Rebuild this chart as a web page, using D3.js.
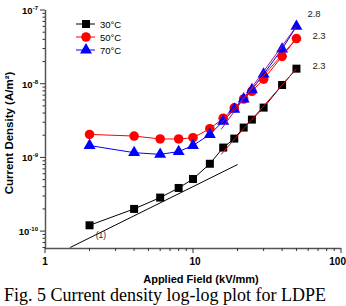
<!DOCTYPE html>
<html><head><meta charset="utf-8">
<script src="https://cdn.jsdelivr.net/npm/d3@7"></script>
<style>
body{margin:0;background:#fff;}
svg{display:block;}
.sans{font-family:Arial,"Liberation Sans",sans-serif;}
.serif{font-family:"Liberation Serif","DejaVu Serif",serif;}
</style></head>
<body>
<svg id="c" width="346" height="306"></svg>
<script>
// ---- data ----
const fields = [2, 4, 6, 8, 10, 13, 16, 19, 22, 25, 30, 40, 50];
const j30 = [1.2e-10, 2.0e-10, 2.85e-10, 3.85e-10, 5.1e-10, 8.2e-10, 1.36e-9, 1.8e-9, 2.54e-9, 3.26e-9, 4.74e-9, 9.6e-9, 1.6e-8];
const j50 = [2.05e-9, 1.95e-9, 1.78e-9, 1.78e-9, 1.85e-9, 2.45e-9, 3.4e-9, 4.7e-9, 6.2e-9, 7.9e-9, 1.15e-8, 2.35e-8, 4.1e-8];
const j70 = [1.45e-9, 1.16e-9, 1.1e-9, 1.2e-9, 1.45e-9, 2.05e-9, 3.1e-9, 4.5e-9, 6.2e-9, 8.3e-9, 1.35e-8, 2.95e-8, 6.0e-8];
const seriesNames = ["30°C", "50°C", "70°C"];
const fitX = [15.5, 50];
const fit30 = [1.1e-9, 1.6e-8];
const fit50 = [2.9e-9, 4.1e-8];
const fit70 = [2.4e-9, 6.0e-8];
const slopeLabels = ["2.3", "2.3", "2.8"];
const refX = [1.48, 20];
const refY = [6.0e-11, 8.0e-10];
const refLabel = "(1)";
const xTickLabels = ["1", "10", "100"];
const yTickExps = ["-7", "-8", "-9", "-10"];

// ---- layout ----
const svg = d3.select("#c");
const x = d3.scaleLog().domain([1, 100]).range([45, 341]);
const y = d3.scaleLog().domain([Math.pow(10, -10.229), 1e-7]).range([248, 10]);

// axes
const xMajor = [1, 10, 100];
const xMinor = [];
for (const d of [1, 10]) for (let k = 2; k <= 9; k++) xMinor.push(d * k);
const yMajor = [1e-7, 1e-8, 1e-9, 1e-10];
const yMinor = [];
for (const d of [1e-11, 1e-10, 1e-9, 1e-8]) for (let k = 2; k <= 9; k++) {
  const v = d * k; if (v >= y.domain()[0] && v <= 1e-7) yMinor.push(v);
}
const ax = svg.append("g").attr("stroke", "#333").attr("stroke-width", 1);
ax.append("line").attr("x1", x(1)).attr("x2", x(100)).attr("y1", 248.5).attr("y2", 248.5).attr("stroke","#555").attr("stroke-width",1.5);
ax.append("line").attr("x1", 45.5).attr("x2", 45.5).attr("y1", y(1e-7)).attr("y2", 248.5).attr("stroke","#555").attr("stroke-width",1.5);
xMajor.forEach(v => ax.append("line").attr("x1", x(v)).attr("x2", x(v)).attr("y1", 248).attr("y2", 253));
xMinor.forEach(v => ax.append("line").attr("x1", x(v)).attr("x2", x(v)).attr("y1", 248).attr("y2", 251));
yMajor.forEach(v => ax.append("line").attr("x1", 40).attr("x2", 45).attr("y1", y(v)).attr("y2", y(v)));
yMinor.forEach(v => ax.append("line").attr("x1", 42.5).attr("x2", 45).attr("y1", y(v)).attr("y2", y(v)));

xMajor.forEach((v, i) => svg.append("text").attr("class", "sans")
  .attr("x", i === 2 ? 346 : x(v) + (i === 1 ? 2 : 0)).attr("y", 265)
  .attr("text-anchor", i === 2 ? "end" : "middle").attr("font-size", 10).attr("font-weight", "bold").text(xTickLabels[i]));
yMajor.forEach((v, i) => {
  const t = svg.append("text").attr("class", "sans").attr("x", 38).attr("y", y(v) + 4).attr("text-anchor", "end")
    .attr("font-size", 9.5).attr("font-weight", "bold");
  t.append("tspan").text("10");
  t.append("tspan").attr("dy", -4).attr("font-size", 6).text(yTickExps[i]);
});

svg.append("text").attr("class", "sans").attr("x", 201).attr("y", 283).attr("text-anchor", "middle")
  .attr("font-size", 11).attr("font-weight", "bold").text("Applied Field (kV/mm)");
svg.append("text").attr("class", "sans").attr("transform", "translate(13,133) rotate(-90)").attr("text-anchor", "middle")
  .attr("font-size", 11.5).attr("font-weight", "bold").text("Current Density (A/m\u00B2)");

// reference line slope 1
svg.append("line").attr("x1", x(refX[0])).attr("y1", y(refY[0])).attr("x2", x(refX[1])).attr("y2", y(refY[1]))
  .attr("stroke", "#000").attr("stroke-width", 1);
svg.append("text").attr("class", "sans").attr("x", x(2.2)).attr("y", 238).attr("font-size", 8.5).attr("fill", "#222").text(refLabel);

const colors = ["#000000", "#ff0000", "#0000ff"];
const data = [j30, j50, j70];
const line = d3.line().x(d => x(d[0])).y(d => y(d[1]));

// series lines
data.forEach((arr, i) => {
  svg.append("path").datum(fields.map((f, k) => [f, arr[k]])).attr("d", line)
    .attr("fill", "none").attr("stroke", colors[i]).attr("stroke-width", 1);
});

// markers
const sq = d3.symbol().type(d3.symbolSquare).size(64);
const ci = d3.symbol().type(d3.symbolCircle).size(72);
const tr = d3.symbol().type(d3.symbolTriangle).size(62);
const syms = [sq, ci, tr];
data.forEach((arr, i) => {
  svg.append("g").selectAll("path").data(fields.map((f, k) => [f, arr[k]])).join("path")
    .attr("transform", d => `translate(${x(d[0])},${y(d[1])})`)
    .attr("d", syms[i]()).attr("fill", colors[i]);
});

// fit lines
const fits = [fit30, fit50, fit70];
const fitColors = ["#cc1010", "#ee1010", "#a0108a"];
fits.forEach((f, i) => {
  svg.append("line").attr("x1", x(fitX[0])).attr("y1", y(f[0])).attr("x2", x(fitX[1])).attr("y2", y(f[1]))
    .attr("stroke", fitColors[i]).attr("stroke-width", 1);
});
// slope labels
const lastVals = [j30, j50, j70].map(a => a[a.length - 1]);
const labelDx = [16, 16, 11];
const labelDy = [0, 0, -9];
slopeLabels.forEach((s, i) => {
  svg.append("text").attr("class", "sans").attr("x", x(50) + labelDx[i]).attr("y", y(lastVals[i]) + labelDy[i])
    .attr("font-size", 9.5).attr("fill", "#222").text(s);
});

// legend
const lg = svg.append("g");
seriesNames.forEach((n, i) => {
  const yy = 24 + i * 13;
  lg.append("line").attr("x1", 76).attr("x2", 95).attr("y1", yy).attr("y2", yy).attr("stroke", colors[i]);
  lg.append("path").attr("transform", `translate(86,${yy})`).attr("d", syms[i]()).attr("fill", colors[i]);
  lg.append("text").attr("class", "sans").attr("x", 100).attr("y", yy + 3.5).attr("font-size", 9.5).text(n);
});

// caption
svg.append("text").attr("class", "serif").attr("x", 4).attr("y", 301)
  .attr("font-size", 18).text("Fig. 5 Current density log-log plot for LDPE");
</script>
</body></html>
